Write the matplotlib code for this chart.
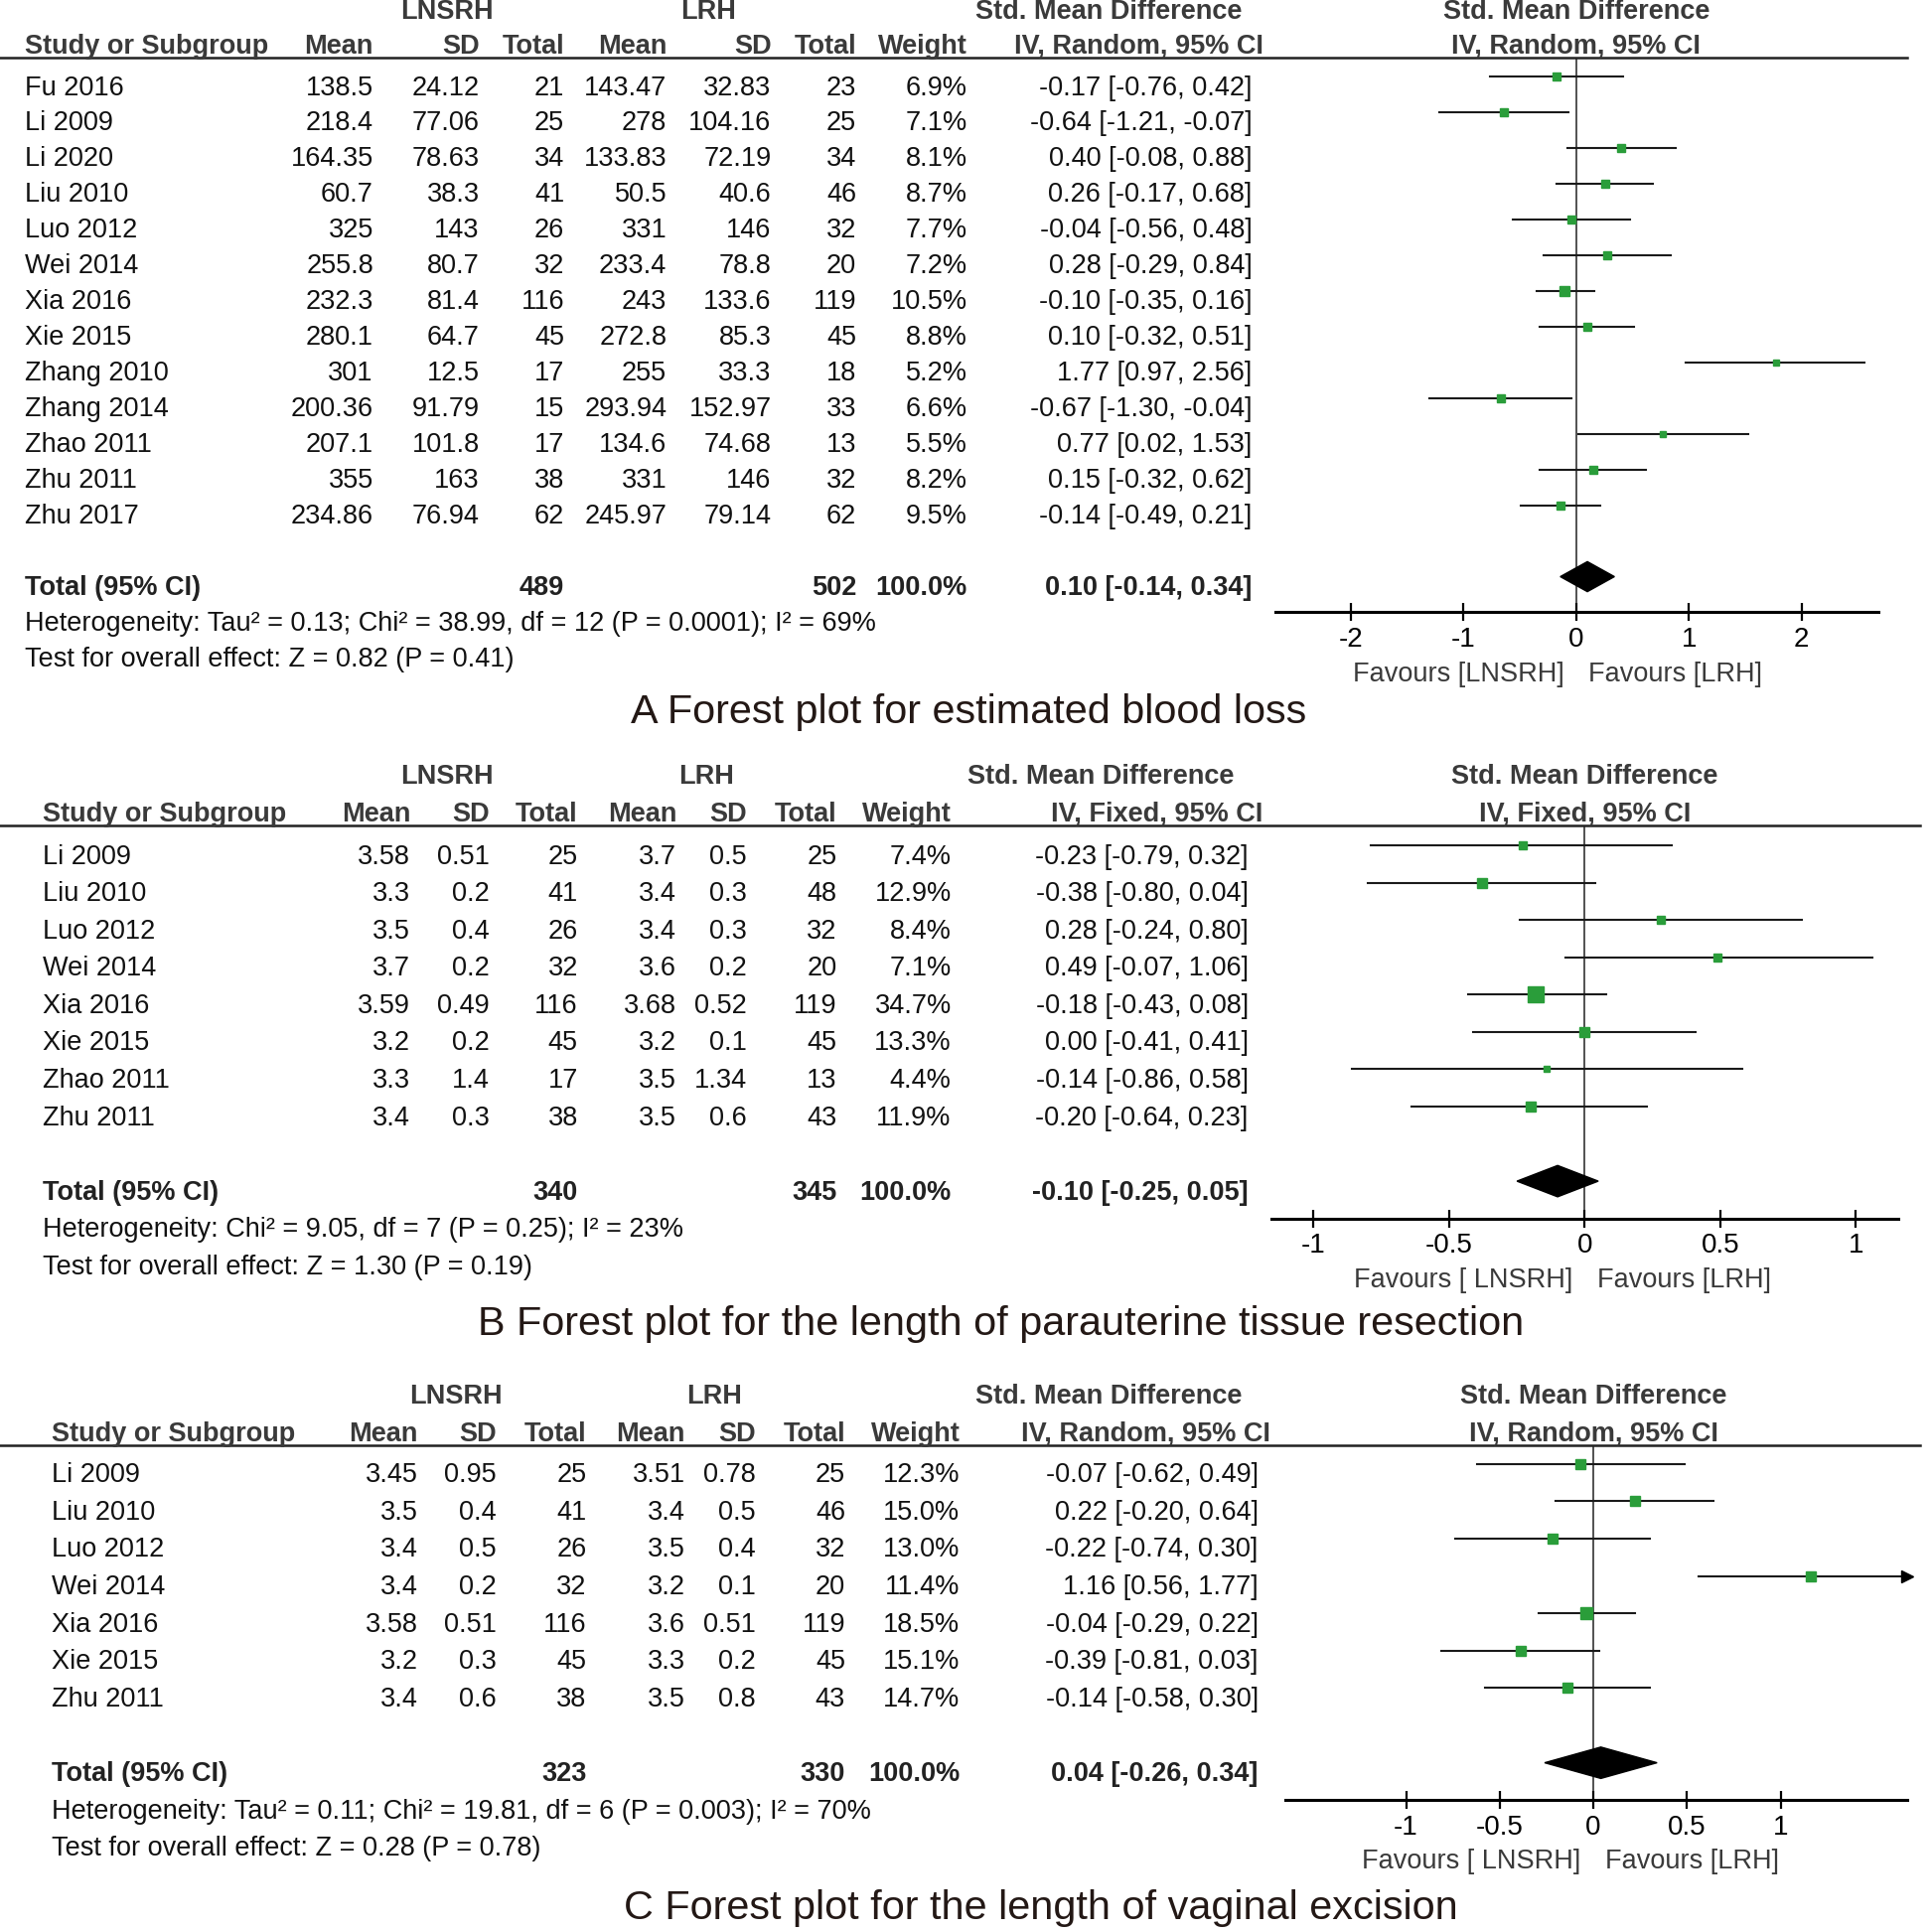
import numpy as np
import matplotlib
matplotlib.use("Agg")
import matplotlib.pyplot as plt
import matplotlib.transforms as mtransforms
from matplotlib.lines import Line2D

plt.rcParams['font.family'] = ['Liberation Sans', 'DejaVu Sans']

# ---------------- data ----------------
# A: estimated blood loss
a_study = ["Fu 2016", "Li 2009", "Li 2020", "Liu 2010", "Luo 2012", "Wei 2014", "Xia 2016",
           "Xie 2015", "Zhang 2010", "Zhang 2014", "Zhao 2011", "Zhu 2011", "Zhu 2017"]
a_mean1 = ["138.5", "218.4", "164.35", "60.7", "325", "255.8", "232.3", "280.1", "301", "200.36", "207.1", "355", "234.86"]
a_sd1 = ["24.12", "77.06", "78.63", "38.3", "143", "80.7", "81.4", "64.7", "12.5", "91.79", "101.8", "163", "76.94"]
a_n1 = [21, 25, 34, 41, 26, 32, 116, 45, 17, 15, 17, 38, 62]
a_mean2 = ["143.47", "278", "133.83", "50.5", "331", "233.4", "243", "272.8", "255", "293.94", "134.6", "331", "245.97"]
a_sd2 = ["32.83", "104.16", "72.19", "40.6", "146", "78.8", "133.6", "85.3", "33.3", "152.97", "74.68", "146", "79.14"]
a_n2 = [23, 25, 34, 46, 32, 20, 119, 45, 18, 33, 13, 32, 62]
a_weight = [6.9, 7.1, 8.1, 8.7, 7.7, 7.2, 10.5, 8.8, 5.2, 6.6, 5.5, 8.2, 9.5]
a_smd = [-0.17, -0.64, 0.40, 0.26, -0.04, 0.28, -0.10, 0.10, 1.77, -0.67, 0.77, 0.15, -0.14]
a_lo = [-0.76, -1.21, -0.08, -0.17, -0.56, -0.29, -0.35, -0.32, 0.97, -1.30, 0.02, -0.32, -0.49]
a_hi = [0.42, -0.07, 0.88, 0.68, 0.48, 0.84, 0.16, 0.51, 2.56, -0.04, 1.53, 0.62, 0.21]
a_total = (489, 502, 0.10, -0.14, 0.34)
a_het = "Heterogeneity: Tau² = 0.13; Chi² = 38.99, df = 12 (P = 0.0001); I² = 69%"
a_test = "Test for overall effect: Z = 0.82 (P = 0.41)"

# B: length of parauterine tissue resection
b_study = ["Li 2009", "Liu 2010", "Luo 2012", "Wei 2014", "Xia 2016", "Xie 2015", "Zhao 2011", "Zhu 2011"]
b_mean1 = ["3.58", "3.3", "3.5", "3.7", "3.59", "3.2", "3.3", "3.4"]
b_sd1 = ["0.51", "0.2", "0.4", "0.2", "0.49", "0.2", "1.4", "0.3"]
b_n1 = [25, 41, 26, 32, 116, 45, 17, 38]
b_mean2 = ["3.7", "3.4", "3.4", "3.6", "3.68", "3.2", "3.5", "3.5"]
b_sd2 = ["0.5", "0.3", "0.3", "0.2", "0.52", "0.1", "1.34", "0.6"]
b_n2 = [25, 48, 32, 20, 119, 45, 13, 43]
b_weight = [7.4, 12.9, 8.4, 7.1, 34.7, 13.3, 4.4, 11.9]
b_smd = [-0.23, -0.38, 0.28, 0.49, -0.18, 0.00, -0.14, -0.20]
b_lo = [-0.79, -0.80, -0.24, -0.07, -0.43, -0.41, -0.86, -0.64]
b_hi = [0.32, 0.04, 0.80, 1.06, 0.08, 0.41, 0.58, 0.23]
b_total = (340, 345, -0.10, -0.25, 0.05)
b_het = "Heterogeneity: Chi² = 9.05, df = 7 (P = 0.25); I² = 23%"
b_test = "Test for overall effect: Z = 1.30 (P = 0.19)"

# C: length of vaginal excision
c_study = ["Li 2009", "Liu 2010", "Luo 2012", "Wei 2014", "Xia 2016", "Xie 2015", "Zhu 2011"]
c_mean1 = ["3.45", "3.5", "3.4", "3.4", "3.58", "3.2", "3.4"]
c_sd1 = ["0.95", "0.4", "0.5", "0.2", "0.51", "0.3", "0.6"]
c_n1 = [25, 41, 26, 32, 116, 45, 38]
c_mean2 = ["3.51", "3.4", "3.5", "3.2", "3.6", "3.3", "3.5"]
c_sd2 = ["0.78", "0.5", "0.4", "0.1", "0.51", "0.2", "0.8"]
c_n2 = [25, 46, 32, 20, 119, 45, 43]
c_weight = [12.3, 15.0, 13.0, 11.4, 18.5, 15.1, 14.7]
c_smd = [-0.07, 0.22, -0.22, 1.16, -0.04, -0.39, -0.14]
c_lo = [-0.62, -0.20, -0.74, 0.56, -0.29, -0.81, -0.58]
c_hi = [0.49, 0.64, 0.30, 1.77, 0.22, 0.03, 0.30]
c_total = (323, 330, 0.04, -0.26, 0.34)
c_het = "Heterogeneity: Tau² = 0.11; Chi² = 19.81, df = 6 (P = 0.003); I² = 70%"
c_test = "Test for overall effect: Z = 0.28 (P = 0.78)"

col_names = ["Mean", "SD", "Total", "Mean", "SD", "Total", "Weight"]

# ---------------- layout (pixels of a 1567 x 1568 page) ----------------
W, H = 1567.0, 1568.0
GREEN = "#2a9d3a"
HDR = "#3a3a3a"
FS = 19.5

fig = plt.figure(figsize=(19.44, 19.45), dpi=100)


def fx(px):
    return px / W


def fy(py):
    return 1 - py / H


def fmt_ci(est, lo, hi):
    return "%.2f [%.2f, %.2f]" % (est, lo, hi)


def forest_panel(lay, study, mean1, sd1, n1, mean2, sd2, n2, weight, smd, lo, hi,
                 total, het, test, model, fav_left, caption, ticks, tick_labels):
    n = len(study)
    step = lay["step"]
    line0 = lay["line0"]
    axis_y = line0 + (n + 2) * step

    ax = fig.add_axes([fx(lay["x_lo"]), fy(axis_y), (lay["x_hi"] - lay["x_lo"]) / W,
                       (axis_y - lay["rule"]) / H])
    xmin = (lay["x_lo"] - lay["zero"]) / lay["unit"]
    xmax = (lay["x_hi"] - lay["zero"]) / lay["unit"]
    ax.set_xlim(xmin, xmax)
    ax.set_ylim(n + 2, (lay["rule"] - line0) / step)
    for s in ["top", "left", "right"]:
        ax.spines[s].set_visible(False)
    ax.spines["bottom"].set_linewidth(2.2)
    ax.set_yticks([])
    ax.set_xticks(ticks)
    ax.set_xticklabels(tick_labels, fontsize=20)
    ax.tick_params(axis="x", direction="inout", length=13, width=1.6, pad=4)
    ax.patch.set_alpha(0)
    ax.axvline(0, color="#333333", lw=1.2, zorder=1)

    # study rows
    for i in range(n):
        h = min(hi[i], xmax)
        ax.plot([lo[i], h], [i, i], color="#1a1a1a", lw=1.5, zorder=2)
        if hi[i] > xmax:
            ax.plot(xmax, i, marker=">", ms=9, color="black", clip_on=False, zorder=3)
        ax.plot(smd[i], i, marker="s", ms=2.0 * np.sqrt(weight[i]), color=GREEN,
                mec=GREEN, zorder=4)

    # pooled diamond
    t_est, t_lo, t_hi = total[2], total[3], total[4]
    r = n + 1
    ax.fill([t_lo, t_est, t_hi, t_est], [r, r - 0.42, r, r + 0.42], color="black", zorder=4)

    trans = mtransforms.blended_transform_factory(fig.transFigure, ax.transData)
    base = 15.0 / step  # text baseline below the row line

    def row_text(x, row, s, ha="right", bold=False, color="#111111"):
        fig.text(fx(x), row + base, s, ha=ha, va="baseline", fontsize=FS, transform=trans,
                 fontweight="bold" if bold else "normal", color=color)

    cols = lay["cols"]
    for i in range(n):
        row_text(lay["study_x"], i, study[i], ha="left")
        vals = [mean1[i], sd1[i], str(n1[i]), mean2[i], sd2[i], str(n2[i]), "%.1f%%" % weight[i]]
        for x, v in zip(cols, vals):
            row_text(x, i, v)
        row_text(lay["ci_right"], i, fmt_ci(smd[i], lo[i], hi[i]))

    row_text(lay["study_x"], n + 1, "Total (95% CI)", ha="left", bold=True, color="#222222")
    row_text(cols[2], n + 1, str(total[0]), bold=True, color="#222222")
    row_text(cols[5], n + 1, str(total[1]), bold=True, color="#222222")
    row_text(cols[6], n + 1, "100.0%", bold=True, color="#222222")
    row_text(lay["ci_right"], n + 1, fmt_ci(t_est, t_lo, t_hi), bold=True, color="#222222")
    row_text(lay["study_x"], n + 2, het, ha="left")
    row_text(lay["study_x"], n + 3, test, ha="left")

    # headers
    h2 = lay["rule"] - 3.5
    h1 = h2 - lay["h1_gap"]
    hk = dict(fontsize=19.5, fontweight="bold", color=HDR, va="baseline")
    fig.text(fx(lay["study_x"]), fy(h2), "Study or Subgroup", ha="left", **hk)
    for x, s in zip(cols, col_names):
        fig.text(fx(x), fy(h2), s, ha="right", **hk)
    fig.text(fx(lay["grp"][0]), fy(h1), "LNSRH", ha="center", **hk)
    fig.text(fx(lay["grp"][1]), fy(h1), "LRH", ha="center", **hk)
    fig.text(fx(lay["smd_c"]), fy(h1), "Std. Mean Difference", ha="center", **hk)
    fig.text(fx(lay["iv_r"]), fy(h2), "IV, %s, 95%% CI" % model, ha="right", **hk)
    tz = mtransforms.blended_transform_factory(ax.transData, fig.transFigure)
    fig.text(0, fy(h1), "Std. Mean Difference", ha="center", transform=tz, **hk)
    fig.text(0, fy(h2), "IV, %s, 95%% CI" % model, ha="center", transform=tz, **hk)

    fig.add_artist(Line2D([0, fx(lay["rule_x1"])], [fy(lay["rule"])] * 2,
                          transform=fig.transFigure, color="#222222", lw=1.8))

    # favours labels and caption
    fav_y = axis_y + 50
    fig.text(fx(lay["zero"] - 10), fy(fav_y), fav_left, ha="right", va="center",
             fontsize=19.5, color="#3a3a3a")
    fig.text(fx(lay["zero"] + 10), fy(fav_y), "Favours [LRH]", ha="left", va="center",
             fontsize=19.5, color="#3a3a3a")
    fig.text(fx(lay["cap_x"]), fy(axis_y + lay["cap_dy"]), caption, ha="center", va="center",
             fontsize=29.8, color="#231815")


lay_a = dict(rule=47, line0=62, step=29.0, x_lo=1035, x_hi=1524, zero=1279, unit=91.5,
             rule_x1=1548, cols=[303, 389, 458, 541, 626, 695, 785], study_x=20, ci_right=1016,
             grp=(363, 575), smd_c=900, iv_r=1025, cap_x=786, cap_dy=81, h1_gap=28)
lay_b = dict(rule=670, line0=686, step=30.29, x_lo=1032, x_hi=1540, zero=1286, unit=220,
             rule_x1=1558, cols=[333, 397, 469, 549, 606, 679, 772], study_x=35, ci_right=1013,
             grp=(363, 573), smd_c=893, iv_r=1025, cap_x=812, cap_dy=86, h1_gap=30.5)
lay_c = dict(rule=1173, line0=1188, step=30.33, x_lo=1043, x_hi=1548, zero=1293, unit=152,
             rule_x1=1558, cols=[339, 403, 476, 556, 613, 686, 779], study_x=42, ci_right=1021,
             grp=(370, 580), smd_c=900, iv_r=1031, cap_x=845, cap_dy=88, h1_gap=30.5)

forest_panel(lay_a, a_study, a_mean1, a_sd1, a_n1, a_mean2, a_sd2, a_n2, a_weight, a_smd, a_lo, a_hi,
             a_total, a_het, a_test, "Random", "Favours [LNSRH]",
             "A Forest plot for estimated blood loss", [-2, -1, 0, 1, 2], ["-2", "-1", "0", "1", "2"])
forest_panel(lay_b, b_study, b_mean1, b_sd1, b_n1, b_mean2, b_sd2, b_n2, b_weight, b_smd, b_lo, b_hi,
             b_total, b_het, b_test, "Fixed", "Favours [ LNSRH]",
             "B Forest plot for the length of parauterine tissue resection",
             [-1, -0.5, 0, 0.5, 1], ["-1", "-0.5", "0", "0.5", "1"])
forest_panel(lay_c, c_study, c_mean1, c_sd1, c_n1, c_mean2, c_sd2, c_n2, c_weight, c_smd, c_lo, c_hi,
             c_total, c_het, c_test, "Random", "Favours [ LNSRH]",
             "C Forest plot for the length of vaginal excision",
             [-1, -0.5, 0, 0.5, 1], ["-1", "-0.5", "0", "0.5", "1"])

fig.savefig("out.png", dpi=100)
